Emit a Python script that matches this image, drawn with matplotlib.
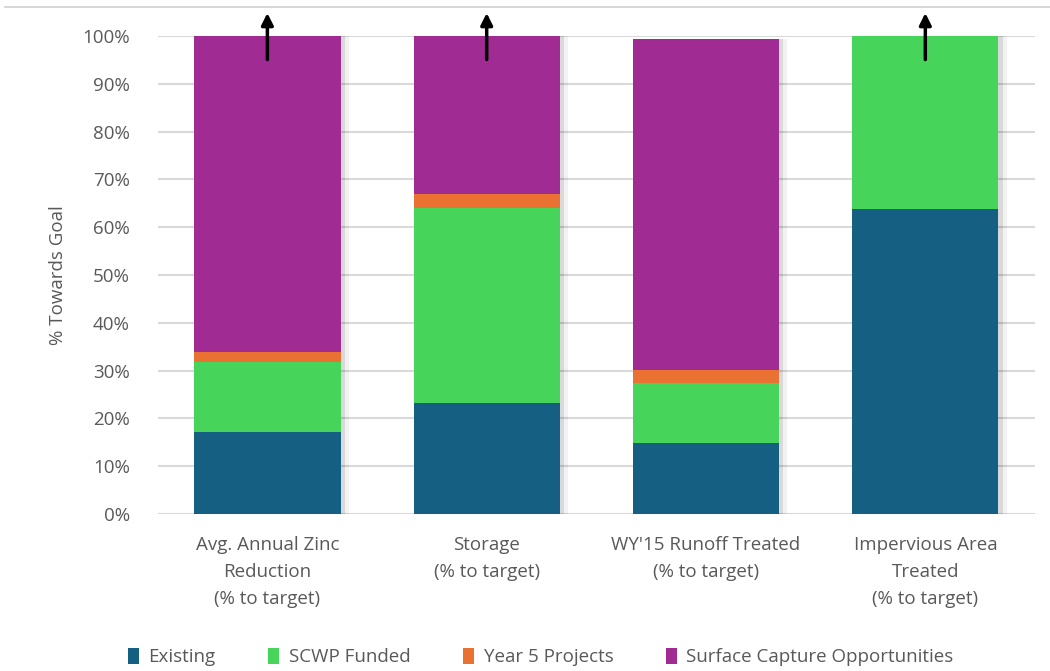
import matplotlib
matplotlib.use("Agg")
import matplotlib.pyplot as plt
import matplotlib.patheffects as pe
from matplotlib.patches import Patch
import numpy as np

categories = ["Avg. Annual Zinc\nReduction\n(% to target)",
              "Storage\n(% to target)",
              "WY'15 Runoff Treated\n(% to target)",
              "Impervious Area\nTreated\n(% to target)"]
series_names = ["Existing", "SCWP Funded", "Year 5 Projects", "Surface Capture Opportunities"]
existing = [17.2, 23.2, 14.8, 63.8]
scwp_funded = [14.5, 40.9, 12.6, 36.2]
year5 = [2.1, 2.9, 2.7, 0.0]
surface = [66.2, 33.0, 69.2, 0.0]
exceeds_goal = [True, True, False, True]
colors = ["#156082", "#47D45A", "#E97132", "#A02B93"]

plt.rcParams['font.family'] = ['Open Sans', 'DejaVu Sans']
fig = plt.figure(figsize=(10.5, 6.71), dpi=100)
ax = fig.add_axes([0.1502, 0.234, 0.8355, 0.7123])

x = np.arange(len(categories))
bottom = np.zeros(len(categories))
shadow = [pe.SimplePatchShadow(offset=(6, 0), shadow_rgbFace="#000000", alpha=0.05),
          pe.SimplePatchShadow(offset=(3, 0), shadow_rgbFace="#000000", alpha=0.10),
          pe.Normal()]
for name, vals, c in zip(series_names, [existing, scwp_funded, year5, surface], colors):
    bars = ax.bar(x, vals, 0.667, bottom=bottom, color=c, label=name, zorder=3)
    for b in bars:
        b.set_path_effects(shadow)
    bottom += np.array(vals)

for xi, flag in zip(x, exceeds_goal):
    if flag:
        ax.annotate("", xy=(xi, 105.4), xytext=(xi, 94.5),
                    arrowprops=dict(arrowstyle="-|>,head_width=0.35,head_length=0.7",
                                    color="black", lw=2.5),
                    annotation_clip=False, zorder=5)

ax.set_xlim(-0.5, 3.5)
ax.set_ylim(0, 100)
ax.set_yticks(np.arange(0, 101, 10))
ax.set_yticklabels([f"{v}%" for v in range(0, 101, 10)])
ax.set_xticks(x)
ax.set_xticklabels(categories, linespacing=1.65)
ax.grid(axis="y", color="#D9D9D9", lw=1.5, zorder=0)
ax.set_axisbelow(True)
for s in ax.spines.values():
    s.set_visible(False)
ax.tick_params(axis="both", length=0, labelsize=13.5, labelcolor="#595959")
ax.tick_params(axis="y", pad=20)
ax.tick_params(axis="x", pad=16)
ax.set_ylabel("% Towards Goal", fontsize=13.5, color="#595959", labelpad=11)

fig.add_artist(plt.Line2D([0.005, 1.0], [1 - 7/671, 1 - 7/671], color="#D0D0D0", lw=1.2))

handles = [Patch(facecolor=c, label=n) for c, n in zip(colors, series_names)]
ax.legend(handles=handles, loc="center", bbox_to_anchor=(0.515, 1 - 657/671),
          bbox_transform=fig.transFigure,
          ncol=4, frameon=False, fontsize=13.5, handlelength=0.6, handleheight=1.0,
          handletextpad=0.5, columnspacing=2.8, labelcolor="#595959")

fig.savefig("out.png", dpi=100)
